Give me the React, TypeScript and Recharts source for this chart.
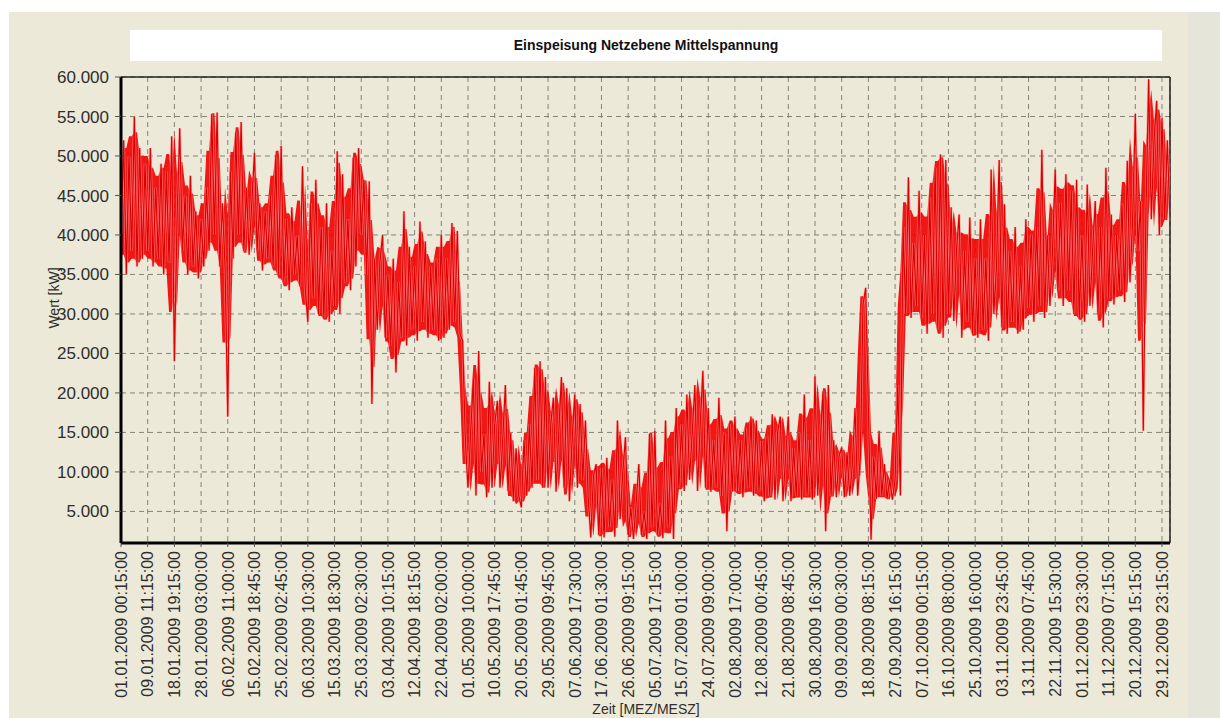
import React from 'react';
import { ComposedChart, Line, Area, XAxis, YAxis, CartesianGrid, ReferenceLine } from 'recharts';

// tick labels along the time axis
const timeLabels = [
  '01.01.2009 00:15:00', '09.01.2009 11:15:00', '18.01.2009 19:15:00', '28.01.2009 03:00:00',
  '06.02.2009 11:00:00', '15.02.2009 18:45:00', '25.02.2009 02:45:00', '06.03.2009 10:30:00',
  '15.03.2009 18:30:00', '25.03.2009 02:30:00', '03.04.2009 10:15:00', '12.04.2009 18:15:00',
  '22.04.2009 02:00:00', '01.05.2009 10:00:00', '10.05.2009 17:45:00', '20.05.2009 01:45:00',
  '29.05.2009 09:45:00', '07.06.2009 17:30:00', '17.06.2009 01:30:00', '26.06.2009 09:15:00',
  '05.07.2009 17:15:00', '15.07.2009 01:00:00', '24.07.2009 09:00:00', '02.08.2009 17:00:00',
  '12.08.2009 00:45:00', '21.08.2009 08:45:00', '30.08.2009 16:30:00', '09.09.2009 00:30:00',
  '18.09.2009 08:15:00', '27.09.2009 16:15:00', '07.10.2009 00:15:00', '16.10.2009 08:00:00',
  '25.10.2009 16:00:00', '03.11.2009 23:45:00', '13.11.2009 07:45:00', '22.11.2009 15:30:00',
  '01.12.2009 23:30:00', '11.12.2009 07:15:00', '20.12.2009 15:15:00', '29.12.2009 23:15:00',
];

const yTicks = [5000, 10000, 15000, 20000, 25000, 30000, 35000, 40000, 45000, 50000, 55000, 60000];

// kW readings, 10 samples per tick interval
const janToApr = [
  40000, 52000, 35000, 50000, 38000, 55000, 36000, 51000, 37000, 49000,
  38000, 51000, 36000, 46000, 37000, 49000, 35000, 48000, 36500, 52500,
  24000, 42000, 53500, 38000, 45000, 35000, 47500, 36000, 43000, 34500,
  42000, 36000, 46000, 38000, 55300, 40000, 55500, 36000, 44000, 35800,
  17000, 48000, 37000, 53000, 40000, 54300, 38000, 46000, 37500, 44000,
  50400, 38000, 44000, 35500, 43000, 37000, 45000, 36000, 50000, 35000,
  51300, 34000, 42000, 33000, 43500, 35000, 40000, 33500, 48700, 33300,
  29000, 44000, 32000, 47000, 30000, 41000, 29500, 44000, 29000, 38000,
  31000, 50600, 30000, 47700, 34000, 42000, 33000, 49800, 36000, 51000,
  40000, 47000, 35000, 46800, 18600, 37000, 28000, 36700, 40000, 27000,
];
const aprToJul = [
  35000, 26000, 37000, 22600, 34000, 27000, 43000, 26000, 38500, 28000,
  36000, 26600, 41700, 29000, 39200, 27000, 36000, 28000, 37000, 26600,
  40000, 27000, 37000, 28000, 41500, 29000, 40500, 27500, 26600, 14000,
  8000, 15000, 21800, 7000, 25300, 10000, 14800, 6800, 21400, 8000,
  16000, 19000, 8000, 14000, 21000, 7600, 15000, 6300, 13000, 7000,
  5500, 14000, 7000, 16000, 8000, 23200, 9000, 24000, 8000, 22000,
  8000, 16000, 19400, 7500, 15000, 22000, 8000, 20600, 6300, 14000,
  19800, 8000, 18600, 9000, 16500, 7000, 1700, 9400, 11000, 2000,
  10500, 1700, 11800, 3000, 9000, 1800, 16500, 4000, 10000, 14400,
  2000, 5500, 1500, 6000, 11000, 2000, 5000, 1500, 14800, 3000,
];
const julToOct = [
  15200, 2000, 6000, 1600, 16500, 3000, 12000, 1500, 18100, 8000,
  16000, 7600, 19800, 9000, 15000, 21000, 7600, 16000, 22800, 8000,
  18100, 7500, 14000, 8000, 19400, 7000, 15000, 2500, 16000, 7500,
  17000, 7600, 14000, 6800, 15500, 8000, 17000, 7000, 16500, 7500,
  13900, 6300, 14500, 7000, 17300, 6500, 15000, 17000, 6300, 12000,
  17000, 6300, 13000, 7000, 15000, 6500, 19800, 7000, 14000, 6500,
  22100, 7000, 14000, 20200, 2500, 21000, 7000, 14000, 6800, 12000,
  13100, 6800, 12500, 7000, 11000, 18100, 7000, 12000, 31200, 33300,
  18000, 1400, 11900, 6600, 15200, 7000, 11000, 6600, 9000, 6500,
  9000, 21000, 7000, 41000, 30000, 47300, 29500, 39000, 31000, 45600,
];
const octToDec = [
  29500, 40000, 27500, 44700, 30000, 48500, 28000, 50200, 27000, 49500,
  30000, 43500, 29100, 38000, 42600, 27000, 38000, 29000, 42200, 27500,
  37000, 27000, 42000, 28000, 37000, 26600, 48300, 30000, 36000, 49500,
  28300, 43900, 27500, 38000, 29000, 41000, 27500, 36000, 28000, 42000,
  30800, 40100, 29000, 41000, 31000, 50800, 29500, 40000, 31000, 38000,
  48300, 32900, 44000, 31000, 47700, 33000, 45600, 30000, 47000, 29500,
  40000, 29000, 46400, 31000, 38000, 44300, 30000, 41000, 28300, 48500,
  32000, 42600, 31200, 40000, 33000, 44000, 31500, 49400, 34000, 42000,
  55300, 38000, 44300, 15200, 43000, 59700, 42000, 51900, 57000, 40000,
  54800, 42000, 52000, 41800,
];

const SAMPLES_PER_TICK = 10;
const readings = [...janToApr, ...aprToJul, ...julToOct, ...octToDec];

// dense core of the trace: mean of the two lowest / two highest readings in a small window
const data = readings.map((kw, i) => {
  const win = readings.slice(Math.max(0, i - 1), Math.min(readings.length, i + 3)).sort((a, b) => a - b);
  const lo = (win[0] + win[1]) / 2;
  const hi = (win[win.length - 1] + win[win.length - 2]) / 2;
  return { t: i / SAMPLES_PER_TICK, kw, core: [lo, hi] };
});
const xEnd = (readings.length - 1) / SAMPLES_PER_TICK;

const font = '"Liberation Sans", Arial, sans-serif';

const TimeTick = (props: any) => {
  const { x, y, payload } = props;
  return (
    <g transform={`translate(${x},${y + 2})`}>
      <text transform="rotate(-90)" textAnchor="end" dy="0.36em" fontSize={16} fill="#2e2e2e" fontFamily={font}>
        {timeLabels[payload.value]}
      </text>
    </g>
  );
};

export default function App() {
  return (
    <div style={{ position: 'fixed', left: 0, top: 0, width: 1220, height: 718, background: '#fff', overflow: 'hidden' }}>
      <div style={{ position: 'absolute', left: 9, top: 12, width: 1211, height: 706, background: '#ece9d8' }} />
      <div style={{ position: 'absolute', left: 1188, top: 12, width: 32, height: 706, background: '#e6e5da' }} />
      <div
        style={{
          position: 'absolute', left: 130, top: 30, width: 1032, height: 31, background: '#fff',
          font: `bold 14px ${font}`, color: '#111', textAlign: 'center', lineHeight: '31px',
        }}
      >
        Einspeisung Netzebene Mittelspannung
      </div>
      <div style={{ position: 'absolute', left: 0, top: 0 }}>
        <ComposedChart width={1220} height={718} data={data} margin={{ top: 77, right: 50, bottom: 0, left: 0 }}>
          <CartesianGrid stroke="#85827a" strokeDasharray="5 4" />
          <XAxis
            type="number"
            dataKey="t"
            domain={[0, xEnd]}
            ticks={timeLabels.map((_, i) => i)}
            tick={<TimeTick />}
            interval={0}
            height={175}
            tickSize={4}
            tickLine={{ stroke: '#555' }}
            axisLine={{ stroke: '#000', strokeWidth: 3 }}
            allowDataOverflow
          />
          <YAxis
            domain={[1000, 60000]}
            ticks={yTicks}
            interval={0}
            width={121}
            tickSize={6}
            tickMargin={6}
            tickFormatter={(v: number) => `${v / 1000}.000`}
            tick={{ fontSize: 17, fill: '#2e2e2e', fontFamily: font }}
            tickLine={{ stroke: '#555' }}
            axisLine={{ stroke: '#000', strokeWidth: 3 }}
            allowDataOverflow
          />
          <ReferenceLine y={60000} stroke="#222" strokeWidth={1.5} />
          <ReferenceLine x={xEnd} stroke="#222" strokeWidth={1.5} />
          <Area dataKey="core" type="linear" stroke="none" fill="#f20000" fillOpacity={0.9} isAnimationActive={false} />
          <Line dataKey="kw" stroke="#ff9090" strokeWidth={2.6} strokeOpacity={0.7} dot={false} isAnimationActive={false} />
          <Line dataKey="kw" stroke="#dd0000" strokeWidth={1.2} dot={false} isAnimationActive={false} />
        </ComposedChart>
      </div>
      <div
        style={{
          position: 'absolute', left: 54, top: 298, transform: 'translate(-50%,-50%) rotate(-90deg)',
          font: `14px ${font}`, color: '#2e2e2e', whiteSpace: 'nowrap',
        }}
      >
        Wert [kW]
      </div>
      <div
        style={{
          position: 'absolute', left: 646, top: 701, transform: 'translateX(-50%)',
          font: `14px ${font}`, color: '#2e2e2e', whiteSpace: 'nowrap', lineHeight: '16px',
        }}
      >
        Zeit [MEZ/MESZ]
      </div>
    </div>
  );
}
